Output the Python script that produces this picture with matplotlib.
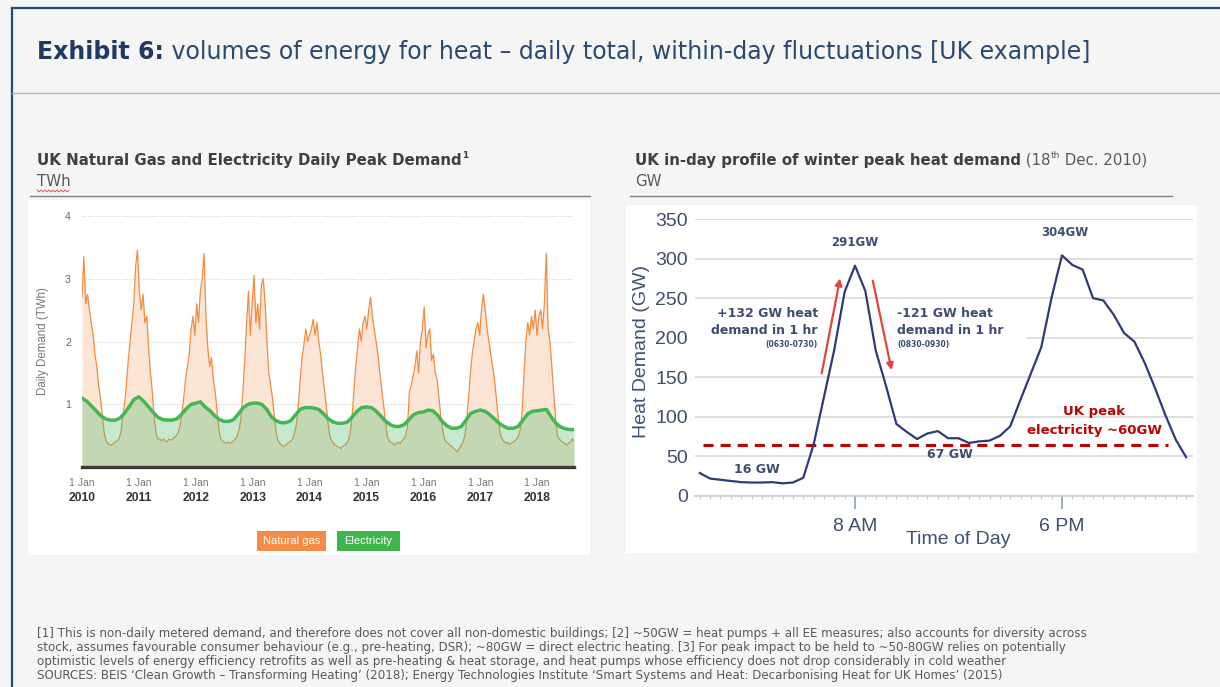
import numpy as np
import pandas as pd
import matplotlib
matplotlib.use('Agg')
from matplotlib import pyplot as plt
from matplotlib.lines import Line2D
from matplotlib.patches import Rectangle
import matplotlib.transforms as mtransforms

W, H = 1220, 687

# ---- left chart: UK daily peak demand (TWh), every ~12 days
gas_first, gas_last = '2010-01-01', '2018-08-25'
gas_twh = [
    2.7, 3.35, 2.6, 2.75, 2.5, 2.3, 2.1, 1.8, 1.6, 1.3,
    1.1, 0.8, 0.55, 0.42, 0.38, 0.36, 0.35, 0.38, 0.4, 0.42,
    0.45, 0.55, 0.8, 1.0, 1.3, 1.7, 2.0, 2.3, 2.6, 3.2,
    3.45, 2.8, 2.5, 2.75, 2.3, 2.4, 1.9, 1.5, 1.2, 0.8,
    0.55, 0.45, 0.45, 0.42, 0.45, 0.42, 0.4, 0.45, 0.43, 0.45,
    0.48, 0.5, 0.55, 0.65, 0.85, 1.1, 1.4, 1.6, 1.8, 2.2,
    2.4, 2.1, 2.6, 2.3, 2.8, 3.0, 3.4, 2.4, 1.9, 1.6,
    1.75, 1.4, 1.2, 0.9, 0.6, 0.45, 0.42, 0.4, 0.38, 0.4,
    0.38, 0.4, 0.42, 0.45, 0.5, 0.6, 0.8, 1.2, 1.7, 2.3,
    2.8, 2.1, 2.6, 3.05, 2.3, 2.6, 2.2, 2.9, 3.0, 2.6,
    2.0, 1.5, 1.3, 1.1, 0.8, 0.55, 0.42, 0.38, 0.35, 0.33,
    0.35, 0.38, 0.4, 0.42, 0.45, 0.55, 0.7, 1.0, 1.4, 1.75,
    1.95, 2.2, 2.0, 2.1, 2.2, 2.35, 2.1, 2.3, 2.0, 1.8,
    1.5, 1.25, 1.0, 0.7, 0.5, 0.42, 0.38, 0.35, 0.33, 0.32,
    0.3, 0.33, 0.35, 0.38, 0.42, 0.55, 0.8, 1.2, 1.6, 1.9,
    2.2, 2.0, 2.3, 2.4, 2.2, 2.5, 2.7, 2.4, 2.2, 2.0,
    1.8, 1.5, 1.25, 1.0, 0.75, 0.5, 0.42, 0.4, 0.38, 0.35,
    0.38, 0.4, 0.38, 0.42, 0.45, 0.5, 0.65, 1.2, 1.3, 1.45,
    1.6, 1.85, 1.5, 2.0, 2.2, 2.55, 1.9, 2.1, 2.2, 1.7,
    1.8, 1.5, 1.4, 1.1, 0.8, 0.6, 0.45, 0.4, 0.38, 0.35,
    0.33, 0.3, 0.27, 0.25, 0.3, 0.35, 0.4, 0.5, 0.75, 1.1,
    1.5, 1.8, 2.0, 2.2, 2.3, 2.1, 2.5, 2.75, 2.5, 2.2,
    2.0, 1.8, 1.6, 1.4, 1.1, 0.8, 0.55, 0.45, 0.42, 0.38,
    0.4, 0.36, 0.38, 0.4, 0.42, 0.45, 0.5, 0.6, 0.9, 1.5,
    2.0, 2.3, 2.1, 2.4, 2.2, 2.5, 2.1, 2.4, 2.5, 2.2,
    2.6, 3.4, 2.2, 2.0, 1.6, 1.2, 0.8, 0.5, 0.45, 0.42,
    0.4, 0.38, 0.35, 0.38, 0.4, 0.45, 0.42]
# electricity, first of each month Jan 2010 .. Aug 2018, plus the last day shown
elec_twh = [
    1.10, 1.05, 0.98, 0.90, 0.82, 0.77, 0.75, 0.75, 0.78, 0.86, 0.97, 1.08,
    1.12, 1.05, 0.97, 0.88, 0.80, 0.76, 0.75, 0.75, 0.77, 0.84, 0.93, 1.00,
    1.02, 1.04, 0.96, 0.90, 0.82, 0.76, 0.73, 0.73, 0.76, 0.85, 0.95, 1.00,
    1.02, 1.02, 1.00, 0.92, 0.80, 0.74, 0.71, 0.71, 0.74, 0.83, 0.92, 0.95,
    0.95, 0.94, 0.92, 0.85, 0.77, 0.72, 0.70, 0.70, 0.72, 0.80, 0.89, 0.95,
    0.96, 0.95, 0.90, 0.82, 0.74, 0.68, 0.65, 0.65, 0.68, 0.76, 0.84, 0.87,
    0.88, 0.91, 0.90, 0.83, 0.73, 0.66, 0.62, 0.62, 0.65, 0.75, 0.86, 0.89,
    0.91, 0.89, 0.84, 0.77, 0.70, 0.65, 0.62, 0.62, 0.65, 0.75, 0.85, 0.89,
    0.90, 0.91, 0.92, 0.80, 0.70, 0.64, 0.61, 0.60, 0.60]
year_ticks = [2010, 2011, 2012, 2013, 2014, 2015, 2016, 2017, 2018]
twh_ticks = [1, 2, 3, 4]
legend_names = ['Natural gas', 'Electricity']

# ---- right chart: in-day heat demand (GW), 18 Dec 2010, half-hourly
hours = [h / 2 for h in range(1, 49)]
heat_gw = [29, 22, 20.5, 19, 17.5, 17, 17, 17.5, 16, 17, 23, 65,
           125, 185, 258, 291, 259, 184, 139, 91, 81, 72, 79, 82,
           73, 73, 67, 69, 70, 76, 88, 122, 155, 188, 251, 304,
           292, 286, 250, 247, 229, 206, 195, 168, 136, 102, 71, 49]
elec_peak_gw = 65
gw_ticks = [0, 50, 100, 150, 200, 250, 300, 350]
hour_ticks = [8, 18]
hour_labels = ['8 AM', '6 PM']

footnotes = [
    "[1] This is non-daily metered demand, and therefore does not cover all non-domestic buildings; [2] ~50GW = heat pumps + all EE measures; also accounts for diversity across",
    "stock, assumes favourable consumer behaviour (e.g., pre-heating, DSR); ~80GW = direct electric heating. [3] For peak impact to be held to ~50-80GW relies on potentially",
    "optimistic levels of energy efficiency retrofits as well as pre-heating & heat storage, and heat pumps whose efficiency does not drop considerably in cold weather",
    "SOURCES: BEIS \u2018Clean Growth \u2013 Transforming Heating\u2019 (2018); Energy Technologies Institute \u2018Smart Systems and Heat: Decarbonising Heat for UK Homes\u2019 (2015)",
]

TF = 'DejaVu Sans'       # slide text
CF = 'Liberation Sans'   # chart text


def fx(x):
    return x / W


def fy(y):
    return 1 - y / H


fig = plt.figure(figsize=(W / 100, H / 100), dpi=100)
fig.patch.set_facecolor('#f5f5f5')
renderer = fig.canvas.get_renderer()


def width_of(txt, **kw):
    t = fig.text(0, 0, txt, **kw)
    w = t.get_window_extent(renderer).width
    t.remove()
    return w


def put_runs(x, y, parts):
    for txt, kw in parts:
        kw = dict(kw)
        dy = kw.pop('dy', 0)
        t = fig.text(fx(x), fy(y - dy), txt, va='center', ha='left', **kw)
        x += t.get_window_extent(renderer).width
    return x


# frame
fig.add_artist(Line2D([fx(12), 1], [fy(8), fy(8)], color='#1f4e79', lw=1.6))
fig.add_artist(Line2D([fx(12), fx(12)], [fy(8), 0], color='#1f4e79', lw=1.6))
fig.add_artist(Line2D([fx(12), 1], [fy(93), fy(93)], color='#aab7c5', lw=1.0))

# title
t_bold = 'Exhibit 6:'
t_rest = ' volumes of energy for heat \u2013 daily total, within-day fluctuations [UK example]'
w0 = width_of(t_bold, size=10, weight='bold', family=TF) + width_of(t_rest, size=10, family=TF)
ts = 10 * 1053 / w0
put_runs(37, 52, [(t_bold, dict(size=ts, weight='bold', family=TF, color='#1f3864')),
                  (t_rest, dict(size=ts, family=TF, color='#2b4a6f'))])

# sub titles
l_bold = 'UK Natural Gas and Electricity Daily Peak Demand'
r_bold = 'UK in-day profile of winter peak heat demand'
ss = 10 * 0.5 * (426 / width_of(l_bold, size=10, weight='bold', family=TF)
                 + 390 / width_of(r_bold, size=10, weight='bold', family=TF))
put_runs(37, 160, [(l_bold, dict(size=ss, weight='bold', family=TF, color='#404040')),
                   ('1', dict(size=ss * 0.6, weight='bold', family=TF, color='#404040', dy=4))])
put_runs(635, 160, [(r_bold, dict(size=ss, weight='bold', family=TF, color='#404040')),
                    (' (18', dict(size=ss, family=TF, color='#595959')),
                    ('th', dict(size=ss * 0.6, family=TF, color='#595959', dy=4)),
                    (' Dec. 2010)', dict(size=ss, family=TF, color='#595959'))])
fig.text(fx(37), fy(181), 'TWh', size=ss, family=TF, color='#595959', va='center')
fig.text(fx(635), fy(181), 'GW', size=ss, family=TF, color='#595959', va='center')
zx = np.arange(37, 71, 2)
zy = np.where(np.arange(len(zx)) % 2 == 0, 190, 192)
fig.add_artist(Line2D(fx(zx), fy(zy), color='#e04040', lw=0.6))
fig.add_artist(Line2D([fx(30), fx(590)], [fy(196), fy(196)], color='#808080', lw=1.0))
fig.add_artist(Line2D([fx(630), fx(1172)], [fy(196), fy(196)], color='#808080', lw=1.0))

# white panels
fig.add_artist(Rectangle((fx(28), fy(555)), 562 / W, 355 / H, transform=fig.transFigure,
                         facecolor='white', edgecolor='none', zorder=0))
fig.add_artist(Rectangle((fx(626), fy(553)), 571 / W, 348 / H, transform=fig.transFigure,
                         facecolor='white', edgecolor='none', zorder=0))

# ---------------- left chart
ax1 = fig.add_axes([fx(82), fy(467.3), (574 - 82) / W, (467.3 - 215.7) / H])
ax1.set_facecolor('white')
gas_dates = pd.date_range(gas_first, gas_last, periods=len(gas_twh))
elec_dates = list(pd.date_range(gas_first, '2018-08-01', freq='MS')) + [pd.Timestamp(gas_last)]
ax1.fill_between(gas_dates, gas_twh, 0, color='#fde5d6', lw=0, zorder=1)
ax1.plot(gas_dates, gas_twh, color='#f38b41', lw=0.9, zorder=2)
ax1.fill_between(elec_dates, elec_twh, 0, color='#4cbb6c', alpha=0.32, lw=0, zorder=3)
ax1.plot(elec_dates, elec_twh, color='#44b652', lw=2.5, zorder=4)
ax1.set_xlim(pd.Timestamp(gas_first), pd.Timestamp(gas_last))
ax1.set_ylim(0, 4)
ax1.set_yticks(twh_ticks)
ax1.tick_params(axis='y', length=0, pad=8, labelsize=7.5, labelcolor='#666666')
for lab in ax1.get_yticklabels():
    lab.set_family(CF)
ax1.yaxis.grid(True, ls=(0, (1, 1.5)), color='#cfcfcf', lw=0.8)
ax1.set_axisbelow(True)
for s in ['top', 'right', 'left']:
    ax1.spines[s].set_visible(False)
ax1.spines['bottom'].set_color('#3a3a3a')
ax1.spines['bottom'].set_linewidth(2.4)
ax1.spines['bottom'].set_zorder(5)
jan = [pd.Timestamp(f'{y}-01-01') for y in year_ticks]
ax1.set_xticks(jan)
ax1.set_xticklabels(['1 Jan'] * len(jan), family=CF)
ax1.tick_params(axis='x', length=0, pad=8, labelsize=7.5, labelcolor='#777777')
yr_tr = mtransforms.blended_transform_factory(ax1.transData, fig.transFigure)
for d, y in zip(jan, year_ticks):
    ax1.text(d, fy(498), str(y), transform=yr_tr, ha='center', va='center',
             size=8.7, weight='bold', color='#333333', family=CF)
fig.text(fx(43), fy(341), 'Daily Demand (TWh)', rotation=90, ha='center', va='center',
         size=8.3, color='#777777', family=CF)
for name, x0, x1, col in [(legend_names[0], 257, 326, '#f58c45'), (legend_names[1], 337, 400, '#3fb54d')]:
    fig.add_artist(Rectangle((fx(x0), fy(551)), (x1 - x0) / W, 20 / H, transform=fig.transFigure,
                             facecolor=col, edgecolor='none'))
    fig.text(fx((x0 + x1) / 2), fy(541), name, ha='center', va='center', size=8,
             color='white', family=CF)

# ---------------- right chart
ax2 = fig.add_axes([fx(695), fy(496), 498 / W, 277 / H])
ax2.set_facecolor('white')
ax2.set_xlim(0.27, 24.33)
ax2.set_ylim(0, 350)
ax2.set_yticks(gw_ticks)
ax2.yaxis.grid(True, color='#d9d9d9', lw=1.2)
ax2.set_axisbelow(True)
for s in ['top', 'right', 'left']:
    ax2.spines[s].set_visible(False)
ax2.spines['bottom'].set_color('#cccccc')
ax2.spines['bottom'].set_linewidth(1.2)
ax2.tick_params(axis='y', length=0, pad=5, labelsize=14, labelcolor='#3e4e6c')
ax2.set_xticks(hour_ticks)
ax2.set_xticklabels(hour_labels)
ax2.set_xticks(hours, minor=True)
ax2.tick_params(axis='x', which='major', length=9, width=1.3, color='#8fa7c8',
                labelsize=14, labelcolor='#3e4e6c', pad=7)
ax2.tick_params(axis='x', which='minor', length=2.5, width=0.8, color='#c8c8c8')
for lab in ax2.get_yticklabels() + ax2.get_xticklabels():
    lab.set_family(CF)
ax2.add_patch(Rectangle((0.27, 195), 16.0, 10, facecolor='white', edgecolor='none', zorder=1))
ax2.plot(hours, heat_gw, color='#2f3b77', lw=1.6, zorder=4)
ax2.hlines(elec_peak_gw, 0.65, 23.1, color='#c00000', lw=2.2, linestyles=(0, (3.3, 2.3)), zorder=3)

arrow = dict(arrowstyle='-|>', color='#e0453e', lw=1.6, mutation_scale=10, shrinkA=0, shrinkB=0)
ax2.annotate('', xy=(7.28, 275), xytext=(6.39, 155), arrowprops=arrow, zorder=5)
ax2.annotate('', xy=(9.77, 159), xytext=(8.86, 272), arrowprops=arrow, zorder=5)

ac = '#3b4e70'
ab = dict(family=TF, weight='bold', color=ac)
ax2.text(6.21, 230, '+132 GW heat', ha='right', va='center', size=9, **ab)
ax2.text(6.21, 208.5, 'demand in 1 hr', ha='right', va='center', size=9, **ab)
ax2.text(6.21, 191, '(0630-0730)', ha='right', va='center', size=5.5, **ab)
ax2.text(10.03, 230, '-121 GW heat', ha='left', va='center', size=9, **ab)
ax2.text(10.03, 208.5, 'demand in 1 hr', ha='left', va='center', size=9, **ab)
ax2.text(10.03, 191, '(0830-0930)', ha='left', va='center', size=5.5, **ab)
ax2.text(8, 320, '291GW', ha='center', va='center', size=8.5, **ab)
ax2.text(18.14, 333, '304GW', ha='center', va='center', size=8.5, **ab)
ax2.text(3.27, 34, '16 GW', ha='center', va='center', size=9, **ab)
ax2.text(12.59, 52, '67 GW', ha='center', va='center', size=9, **ab)
ax2.text(19.55, 107, 'UK peak', ha='center', va='center', size=9.5, family=TF, weight='bold', color='#c00000')
ax2.text(19.55, 83, 'electricity ~60GW', ha='center', va='center', size=9.5, family=TF, weight='bold', color='#c00000')

fig.text(fx(642), fy(352), 'Heat Demand (GW)', rotation=90, ha='center', va='center',
         size=14, color='#3e5276', family=CF)
fig.text(fx(958), fy(540), 'Time of Day', ha='center', va='center', size=14,
         color='#3e5276', family=CF)

# footnotes
fs = 10 * 1050 / width_of(footnotes[0], size=10, family=TF)
for i, line in enumerate(footnotes):
    fig.text(fx(37), fy(634 + 14 * i), line, size=fs, family=TF, color='#595959', va='center')

fig.savefig('out.png', dpi=100, facecolor=fig.get_facecolor())
